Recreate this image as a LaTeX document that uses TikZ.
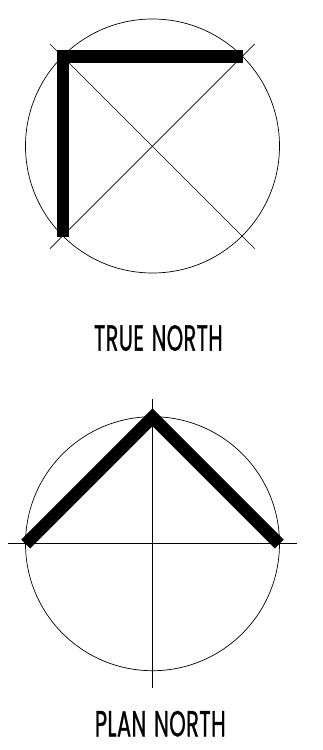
\documentclass[tikz,border=0pt]{standalone}
\usepackage{fontspec}
\usepackage{graphicx}
\setmainfont[WordSpace=1.3,LetterSpace=2,FakeBold=1.1]{Poppins}
\tikzset{
  thinline/.style={draw=black,line width=0.7pt},
  thickline/.style={draw=black,line width=12.5pt,line cap=butt,line join=miter,miter limit=10},
  caption/.style={inner sep=0pt,anchor=center}
}
\begin{document}
\begin{tikzpicture}[x=1pt,y=-1pt]
\useasboundingbox (0,0) rectangle (322,750);
% true north
\coordinate (c1) at (152.5,146);
\coordinate (d1a) at (50,44);
\coordinate (d1b) at (254.7,248.7);
\coordinate (d1c) at (254.7,44);
\coordinate (d1d) at (50,248.7);
\draw[thinline] (c1) circle[radius=127];
\draw[thinline] (d1a) -- (d1b);
\draw[thinline] (d1c) -- (d1d);
\coordinate (t1a) at (242.5,56.5);
\coordinate (t1b) at (63,56.5);
\coordinate (t1c) at (63,237);
\draw[thickline] (t1a) -- (t1b) -- (t1c);
\node[caption] (truenorth) at (158.4,338) {\resizebox{128.7pt}{25.5pt}{TRUE NORTH}};
% plan north
\coordinate (c2) at (152.5,543.7);
\coordinate (h2a) at (8,543.7);
\coordinate (h2b) at (296.7,543.7);
\coordinate (v2a) at (152.5,399);
\coordinate (v2b) at (152.5,687.7);
\draw[thinline] (c2) circle[radius=127];
\draw[thinline] (h2a) -- (h2b);
\draw[thinline] (v2a) -- (v2b);
\coordinate (t2a) at (25.7,544);
\coordinate (t2b) at (152.5,417.2);
\coordinate (t2c) at (279.3,544);
\draw[thickline] (t2a) -- (t2b) -- (t2c);
\node[caption] (plannorth) at (160.3,723.7) {\resizebox{130.7pt}{25.5pt}{PLAN NORTH}};
\end{tikzpicture}
\end{document}
